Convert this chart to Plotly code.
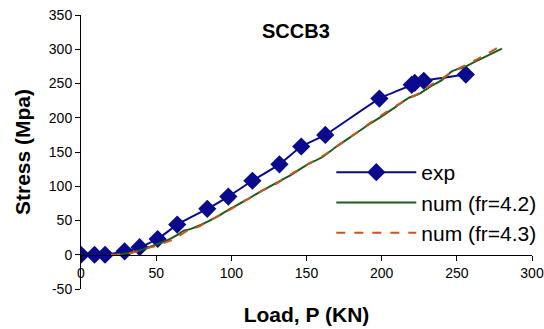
import plotly.graph_objects as go

exp_x = [0, 9, 16, 29, 39, 51, 64, 84, 98, 114, 132, 146.5, 162.5, 198.5, 220, 222, 228, 256]
exp_y = [0, 0, 0, 5, 11, 23, 44, 67, 85, 108, 132, 158, 175, 228, 248, 251, 254, 263]

num42_x = [20, 25, 30, 35, 40, 45, 50, 55, 60, 65, 68, 72, 80, 90, 100, 110, 120, 130, 140,
           150, 160, 170, 180, 190, 200, 210, 218, 225, 232, 240, 247, 255, 265, 280]
num42_y = [0, 0.5, 2, 4, 7, 11, 15, 19, 24, 30, 35, 37, 44, 55, 68, 80, 93, 105, 117,
           131, 142, 158, 173, 188, 202, 217, 229, 235, 245, 255, 268, 274, 285, 301]

num43_x = [20, 25, 30, 35, 40, 45, 50, 55, 60, 65, 70, 75, 80, 90, 100, 110, 120, 130, 140,
           150, 160, 170, 180, 190, 200, 210, 218, 225, 232, 240, 247, 255, 265, 277]
num43_y = [0, 0.5, 1.5, 3.5, 6.5, 10, 13, 17, 21, 27, 34, 38, 43, 55, 67, 80, 93, 104, 118,
           131, 143, 158, 173, 189, 204, 218, 228, 236, 247, 257, 267, 276, 287, 302]

x_ticks = [0, 50, 100, 150, 200, 250, 300]
y_ticks = [-50, 0, 50, 100, 150, 200, 250, 300, 350]
y_tick_labels = ["-50", "0", "50", "100", "150", "200", "250", "300", "350"]

fig = go.Figure()
fig.add_trace(go.Scatter(
    x=exp_x, y=exp_y, name="exp", mode="lines+markers",
    line=dict(color="#0A0A8C", width=2, shape="spline", smoothing=0.4),
    marker=dict(symbol="diamond", size=14, color="#0A0A8C"),
))
fig.add_trace(go.Scatter(
    x=num42_x, y=num42_y, name="num (fr=4.2)", mode="lines",
    line=dict(color="#1F5A1F", width=2, shape="spline", smoothing=0.6),
))
fig.add_trace(go.Scatter(
    x=num43_x, y=num43_y, name="num (fr=4.3)", mode="lines",
    line=dict(color="#C8561E", width=2, dash="dash", shape="spline", smoothing=0.6),
))

font = "Liberation Sans, Arial, sans-serif"
fig.update_layout(
    width=544, height=329,
    margin=dict(l=81, r=12, t=15, b=40, autoexpand=False),
    paper_bgcolor="white", plot_bgcolor="white",
    font=dict(family=font, size=14, color="black"),
    showlegend=True,
    legend=dict(x=0.555, y=0.50, xanchor="left", yanchor="top",
                font=dict(size=21, family=font), itemwidth=80,
                bgcolor="rgba(0,0,0,0)", tracegroupgap=0),
    xaxis=dict(range=[0, 300], tickvals=x_ticks, showgrid=False, zeroline=False,
               showline=True, linecolor="black", linewidth=1,
               ticks="outside", ticklen=5, tickcolor="black",
               anchor="free", position=0.125, automargin=False,
               ticklabeloverflow="allow",
               tickfont=dict(size=14),
               title=dict(text="<b>Load, P (KN)</b>", font=dict(size=21), standoff=27)),
    yaxis=dict(range=[-50, 350], tickvals=y_ticks, ticktext=y_tick_labels,
               showgrid=False, zeroline=False,
               showline=True, linecolor="black", linewidth=1,
               ticks="outside", ticklen=5, tickcolor="black", automargin=False,
               ticklabeloverflow="allow",
               tickfont=dict(size=14),
               title=dict(text="<b>Stress (Mpa)</b>", font=dict(size=21), standoff=12)),
    annotations=[dict(text="<b>SCCB3</b>", x=0.476, y=0.99, xref="paper", yref="paper",
                      showarrow=False, font=dict(size=20, family=font))],
)

fig.write_html("out.html", config={"displayModeBar": False},
               post_script="document.body.style.margin='0px';document.body.style.overflow='hidden';")
